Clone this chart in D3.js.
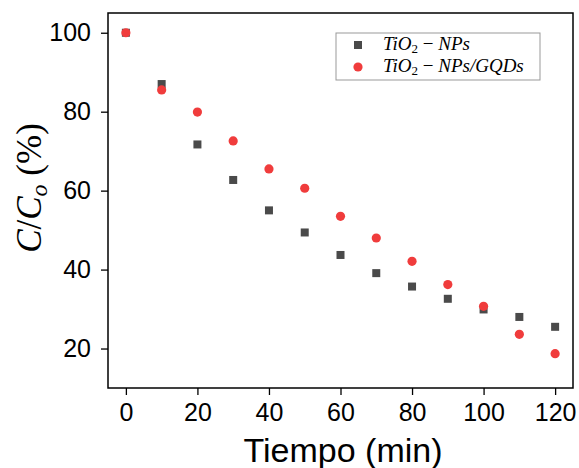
<!DOCTYPE html>
<html><head><meta charset="utf-8">
<script src="https://cdn.jsdelivr.net/npm/d3@7"></script>
<style>body{margin:0;background:#fff}svg{display:block}</style>
</head><body>
<script>
const times = [0,10,20,30,40,50,60,70,80,90,100,110,120];
const tio2NPs = [100,87.0,71.7,62.7,55.0,49.4,43.7,39.1,35.7,32.6,29.9,28.0,25.5];
const tio2NPsGQDs = [100,85.5,79.9,72.6,65.5,60.6,53.5,48.0,42.1,36.2,30.7,23.6,18.7];
const xTicks = [0,20,40,60,80,100,120];
const yTicks = [20,40,60,80,100];

const W=579,H=468;
const m={l:108,t:13,r:6,b:80};
const svg=d3.select("body").append("svg").attr("width",W).attr("height",H);
const x=d3.scaleLinear().domain([-5,125]).range([m.l,W-m.r]);
const y=d3.scaleLinear().domain([10,105]).range([H-m.b,m.t]);

const gx=svg.append("g").attr("transform",`translate(0,${H-m.b})`)
  .call(d3.axisBottom(x).tickValues(xTicks).tickSize(7).tickPadding(8).tickSizeOuter(0));
const gy=svg.append("g").attr("transform",`translate(${m.l},0)`)
  .call(d3.axisLeft(y).tickValues(yTicks).tickSize(7).tickPadding(10).tickSizeOuter(0));
[gx,gy].forEach(g=>{
  g.select(".domain").remove();
  g.selectAll(".tick line").attr("stroke","#000").attr("stroke-width",1.3);
  g.selectAll(".tick text").attr("font-family","Liberation Sans, Arial, sans-serif").attr("font-size",25).attr("fill","#000");
});

svg.append("rect").attr("x",m.l).attr("y",m.t).attr("width",W-m.r-m.l).attr("height",H-m.b-m.t)
  .attr("fill","none").attr("stroke","#000").attr("stroke-width",1.5);

// data
const s=8;
svg.append("g").selectAll("rect").data(times).join("rect")
  .attr("x",(d,i)=>x(d)-s/2).attr("y",(d,i)=>y(tio2NPs[i])-s/2).attr("width",s).attr("height",s)
  .attr("fill","#4a4a4a");
svg.append("g").selectAll("circle").data(times).join("circle")
  .attr("cx",d=>x(d)).attr("cy",(d,i)=>y(tio2NPsGQDs[i])).attr("r",4.6)
  .attr("fill","#f03c3c");

// axis titles
svg.append("text").attr("x",343).attr("y",462).attr("text-anchor","middle")
  .attr("font-family","Liberation Sans, Arial, sans-serif").attr("font-size",34).text("Tiempo (min)");
const yt=svg.append("text").attr("transform",`translate(41,188) rotate(-90)`).attr("text-anchor","middle")
  .attr("font-family","Liberation Serif, serif").attr("font-size",35);
yt.append("tspan").attr("font-style","italic").text("C");
yt.append("tspan").text("/");
yt.append("tspan").attr("font-style","italic").text("C");
yt.append("tspan").attr("font-style","italic").attr("font-size",24).attr("dy",6).text("o");
yt.append("tspan").attr("dy",-6).text(" (%)");

// legend
const lg=svg.append("g");
lg.append("rect").attr("x",336).attr("y",33).attr("width",204).attr("height",47)
  .attr("fill","#fff").attr("stroke","#999").attr("stroke-width",1);
const ly=[45,67];
lg.append("rect").attr("x",358-s/2).attr("y",ly[0]-s/2).attr("width",s).attr("height",s).attr("fill","#4a4a4a");
lg.append("circle").attr("cx",358).attr("cy",ly[1]).attr("r",4.6).attr("fill","#f03c3c");
["NPs","NPs/GQDs"].forEach((nm,i)=>{
  const t=lg.append("text").attr("x",383).attr("y",ly[i]+5).attr("font-family","Liberation Serif, serif")
    .attr("font-size",19).attr("font-style","italic");
  t.append("tspan").text("TiO");
  t.append("tspan").attr("font-size",13).attr("font-style","normal").attr("dy",3).text("2");
  t.append("tspan").attr("dy",-3).attr("font-style","normal").text(" − ");
  t.append("tspan").text(nm);
});
</script>
</body></html>
